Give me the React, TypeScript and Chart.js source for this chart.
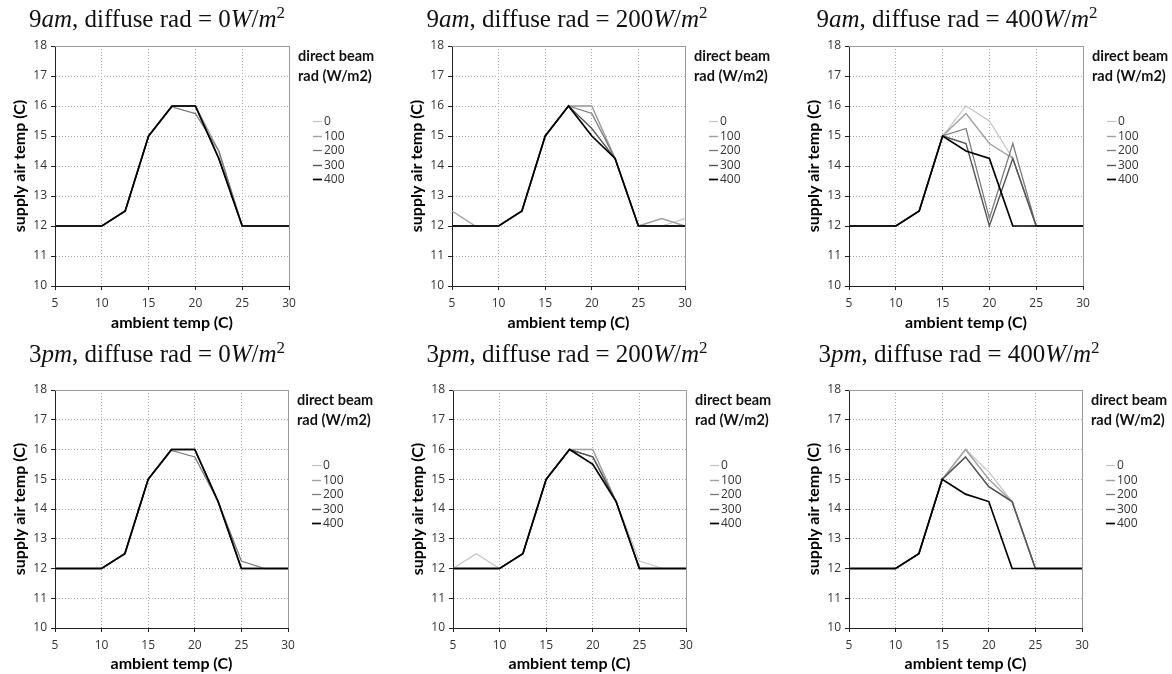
import React, { useEffect, useRef } from 'react';
import { Chart, registerables } from 'chart.js';

Chart.register(...registerables);

// ---------- data ----------
const ambientTemps = [5, 7.5, 10, 12.5, 15, 17.5, 20, 22.5, 25, 27.5, 30];
const beamLabels = ['0', '100', '200', '300', '400'];
const legendTitle = ['direct beam', 'rad (W/m2)'];
const xTitle = 'ambient temp (C)';
const yTitle = 'supply air temp (C)';
const xRange = { min: 5, max: 30, step: 5 };
const yRange = { min: 10, max: 18, step: 1 };

// series order: beam 0, 100, 200, 300, 400
const am9Diffuse0 = [
  [12, 12, 12, 12.5, 15, 16, 16, 14.25, 12, 12, 12],
  [12, 12, 12, 12.5, 15, 16, 16, 14.5, 12, 12, 12],
  [12, 12, 12, 12.5, 15, 15.97, 15.75, 14.5, 12, 12, 12],
  [12, 12, 12, 12.5, 15, 16, 16, 14.25, 12, 12, 12],
  [12, 12, 12, 12.5, 15, 16, 16, 14.25, 12, 12, 12],
];
const am9Diffuse200 = [
  [12, 12, 12, 12.5, 15, 16, 16, 14.25, 12, 12, 12.25],
  [12.5, 12, 12, 12.5, 15, 16, 16, 14.25, 12, 12.25, 12],
  [12, 12, 12, 12.5, 15, 16, 15.75, 14.25, 12, 12, 12],
  [12, 12, 12, 12.5, 15, 16, 15.25, 14.25, 12, 12, 12],
  [12, 12, 12, 12.5, 15, 16, 15, 14.25, 12, 12, 12],
];
const am9Diffuse400 = [
  [12, 12, 12, 12.5, 15, 16, 15.5, 14.25, 12, 12, 12],
  [12, 12, 12, 12.5, 15, 15.75, 14.75, 14.25, 12, 12, 12],
  [12, 12, 12, 12.5, 15, 15.25, 12.25, 14.75, 12, 12, 12],
  [12, 12, 12, 12.5, 15, 14.75, 12, 14.25, 12, 12, 12],
  [12, 12, 12, 12.5, 15, 14.5, 14.25, 12, 12, 12, 12],
];
const pm3Diffuse0 = [
  [12, 12, 12, 12.5, 15, 16, 16, 14.25, 12, 12, 12],
  [12, 12, 12, 12.5, 15, 16, 16, 14.25, 12, 12, 12],
  [12, 12, 12, 12.5, 15, 15.97, 15.75, 14.25, 12.25, 12, 12],
  [12, 12, 12, 12.5, 15, 16, 16, 14.25, 12, 12, 12],
  [12, 12, 12, 12.5, 15, 16, 16, 14.25, 12, 12, 12],
];
const pm3Diffuse200 = [
  [12, 12.5, 12, 12.5, 15, 16, 16, 14.25, 12.25, 12, 12],
  [12, 12, 12, 12.5, 15, 16, 16, 14.25, 12, 12, 12],
  [12, 12, 12, 12.5, 15, 16, 15.75, 14.25, 12, 12, 12],
  [12, 12, 12, 12.5, 15, 16, 15.75, 14.25, 12, 12, 12],
  [12, 12, 12, 12.5, 15, 16, 15.5, 14.25, 12, 12, 12],
];
const pm3Diffuse400 = [
  [12, 12, 12, 12.5, 15, 16, 15.25, 14.25, 12, 12, 12],
  [12, 12, 12, 12.5, 15, 16, 15, 14.25, 12, 12, 12],
  [12, 12, 12, 12.5, 15, 15.75, 14.75, 14.25, 12, 12, 12],
  [12, 12, 12, 12.5, 15, 15.75, 14.75, 14.25, 12, 12, 12],
  [12, 12, 12, 12.5, 15, 14.5, 14.25, 12, 12, 12, 12],
];

// ---------- styles ----------
const beamColors = ['#c4c4c4', '#a0a0a0', '#7c7c7c', '#555555', '#000000'];
const beamWidths = [1.2, 1.4, 1.3, 1.4, 1.7];
const tickFont = { family: '"Open Sans", sans-serif', size: 12 };
const axisTitleFont = { family: 'Lato, sans-serif', size: 16, weight: 'bold' as const };

const panels = [
  { time: '9am', diffuse: '0', series: am9Diffuse0, left: 0, top: 0, width: 390, height: 335, plotLeft: 55, plotRight: 289, plotTop: 46, plotH: 240, xAxisH: 46, titleCenter: 157 },
  { time: '9am', diffuse: '200', series: am9Diffuse200, left: 390, top: 0, width: 390, height: 335, plotLeft: 62, plotRight: 295, plotTop: 46, plotH: 240, xAxisH: 46, titleCenter: 177 },
  { time: '9am', diffuse: '400', series: am9Diffuse400, left: 780, top: 0, width: 392, height: 335, plotLeft: 69, plotRight: 303, plotTop: 46, plotH: 240, xAxisH: 46, titleCenter: 177 },
  { time: '3pm', diffuse: '0', series: pm3Diffuse0, left: 0, top: 335, width: 390, height: 339, plotLeft: 55, plotRight: 288, plotTop: 55, plotH: 238, xAxisH: 45, titleCenter: 157 },
  { time: '3pm', diffuse: '200', series: pm3Diffuse200, left: 390, top: 335, width: 390, height: 339, plotLeft: 63, plotRight: 296, plotTop: 55, plotH: 238, xAxisH: 45, titleCenter: 177 },
  { time: '3pm', diffuse: '400', series: pm3Diffuse400, left: 780, top: 335, width: 392, height: 339, plotLeft: 69, plotRight: 302, plotTop: 55, plotH: 238, xAxisH: 45, titleCenter: 179 },
];

const Y_AXIS_W = 45;

type Part = { t: string; it?: boolean; sup?: boolean };
function titleParts(time: string, diffuse: string): Part[] {
  return [
    { t: time.slice(0, 1) },
    { t: time.slice(1), it: true },
    { t: ', diffuse rad = ' },
    { t: diffuse },
    { t: 'W', it: true },
    { t: '/' },
    { t: 'm', it: true },
    { t: '2', sup: true },
  ];
}

const serif = '"Liberation Serif", "Times New Roman", serif';
function partFont(p: Part) {
  if (p.sup) return `17px ${serif}`;
  return `${p.it ? 'italic ' : ''}25px ${serif}`;
}

const decorPlugin = {
  id: 'decor',
  beforeDatasetsDraw(chart: any) {
    const { ctx, chartArea } = chart;
    const { left, right, top, bottom } = chartArea;
    ctx.save();
    ctx.strokeStyle = '#9a9a9a';
    ctx.lineWidth = 1;
    ctx.beginPath();
    ctx.moveTo(left, Math.round(top) + 0.5);
    ctx.lineTo(Math.round(right) + 0.5, Math.round(top) + 0.5);
    ctx.lineTo(Math.round(right) + 0.5, bottom);
    ctx.stroke();
    ctx.restore();
  },
  afterDraw(chart: any, _args: any, opts: any) {
    const { ctx, chartArea } = chart;
    const { right, top } = chartArea;
    ctx.save();
    // title
    const parts: Part[] = opts.parts || [];
    let total = 0;
    parts.forEach((p) => {
      ctx.font = partFont(p);
      total += ctx.measureText(p.t).width;
    });
    let x = opts.titleCenter - total / 2;
    const baseline = 27;
    ctx.fillStyle = '#111';
    ctx.textAlign = 'left';
    ctx.textBaseline = 'alphabetic';
    parts.forEach((p) => {
      ctx.font = partFont(p);
      ctx.fillText(p.t, x, p.sup ? baseline - 9 : baseline);
      x += ctx.measureText(p.t).width;
    });
    // legend
    ctx.font = `bold 14.5px Lato, sans-serif`;
    ctx.fillStyle = '#111';
    ctx.textBaseline = 'middle';
    legendTitle.forEach((line, i) => ctx.fillText(line, right + 9, top + 10 + i * 20));
    ctx.font = `12px "Open Sans", sans-serif`;
    chart.data.datasets.forEach((ds: any, i: number) => {
      const y = Math.round(top + 75 + i * 14.5) + 0.5;
      ctx.strokeStyle = ds.borderColor;
      ctx.lineWidth = ds.borderWidth;
      ctx.beginPath();
      ctx.moveTo(right + 24, y);
      ctx.lineTo(right + 33, y);
      ctx.stroke();
      ctx.fillStyle = '#333';
      ctx.fillText(ds.label, right + 35, y);
    });
    ctx.restore();
  },
};

function Panel({ cfg }: { cfg: (typeof panels)[number] }) {
  const ref = useRef<HTMLCanvasElement>(null);
  useEffect(() => {
    const canvas = ref.current;
    if (!canvas) return;
    const datasets = cfg.series.map((vals, i) => ({
      label: beamLabels[i],
      data: ambientTemps.map((x, j) => ({ x, y: vals[j] })),
      borderColor: beamColors[i],
      backgroundColor: beamColors[i],
      borderWidth: beamWidths[i],
      pointRadius: 0,
      fill: false,
      tension: 0,
      order: beamLabels.length - 1 - i,
    }));
    const xAxisH = cfg.xAxisH;
    const chart = new Chart(canvas, {
      type: 'line',
      data: { datasets },
      plugins: [decorPlugin],
      options: {
        animation: false,
        responsive: false,
        maintainAspectRatio: false,
        devicePixelRatio: 1,
        layout: {
          padding: {
            left: cfg.plotLeft - Y_AXIS_W,
            right: cfg.width - cfg.plotRight,
            top: cfg.plotTop,
            bottom: cfg.height - cfg.plotTop - cfg.plotH - xAxisH,
          },
        },
        plugins: {
          legend: { display: false },
          tooltip: { enabled: false },
          title: { display: false },
          decor: { parts: titleParts(cfg.time, cfg.diffuse), titleCenter: cfg.titleCenter },
        } as any,
        scales: {
          x: {
            type: 'linear',
            min: xRange.min,
            max: xRange.max,
            ticks: { stepSize: xRange.step, font: tickFont, color: '#333', padding: 6, maxRotation: 0 },
            grid: { color: '#aaaaaa', tickColor: '#222', tickLength: 4, lineWidth: 1 },
            border: { color: '#222', width: 1, dash: [1, 2] },
            title: { display: true, text: xTitle, font: axisTitleFont, color: '#000', padding: { top: 0, bottom: 0 } },
            afterFit: (s: any) => { s.height = xAxisH; },
          },
          y: {
            type: 'linear',
            min: yRange.min,
            max: yRange.max,
            ticks: { stepSize: yRange.step, font: tickFont, color: '#333', padding: 4 },
            grid: { color: '#aaaaaa', tickColor: '#222', tickLength: 4, lineWidth: 1 },
            border: { color: '#222', width: 1, dash: [1, 2] },
            title: { display: true, text: yTitle, font: axisTitleFont, color: '#000', padding: { top: 0, bottom: 0 } },
            afterFit: (s: any) => { s.width = Y_AXIS_W; },
          },
        },
      } as any,
    });
    return () => chart.destroy();
  }, []);
  return (
    <canvas
      ref={ref}
      width={cfg.width}
      height={cfg.height}
      style={{ position: 'absolute', left: cfg.left, top: cfg.top, width: cfg.width, height: cfg.height }}
    />
  );
}

export default function App() {
  return (
    <div style={{ position: 'absolute', left: 0, top: 0, width: 1172, height: 674, background: '#fff', overflow: 'hidden' }}>
      {panels.map((p, i) => (
        <Panel key={i} cfg={p} />
      ))}
    </div>
  );
}
